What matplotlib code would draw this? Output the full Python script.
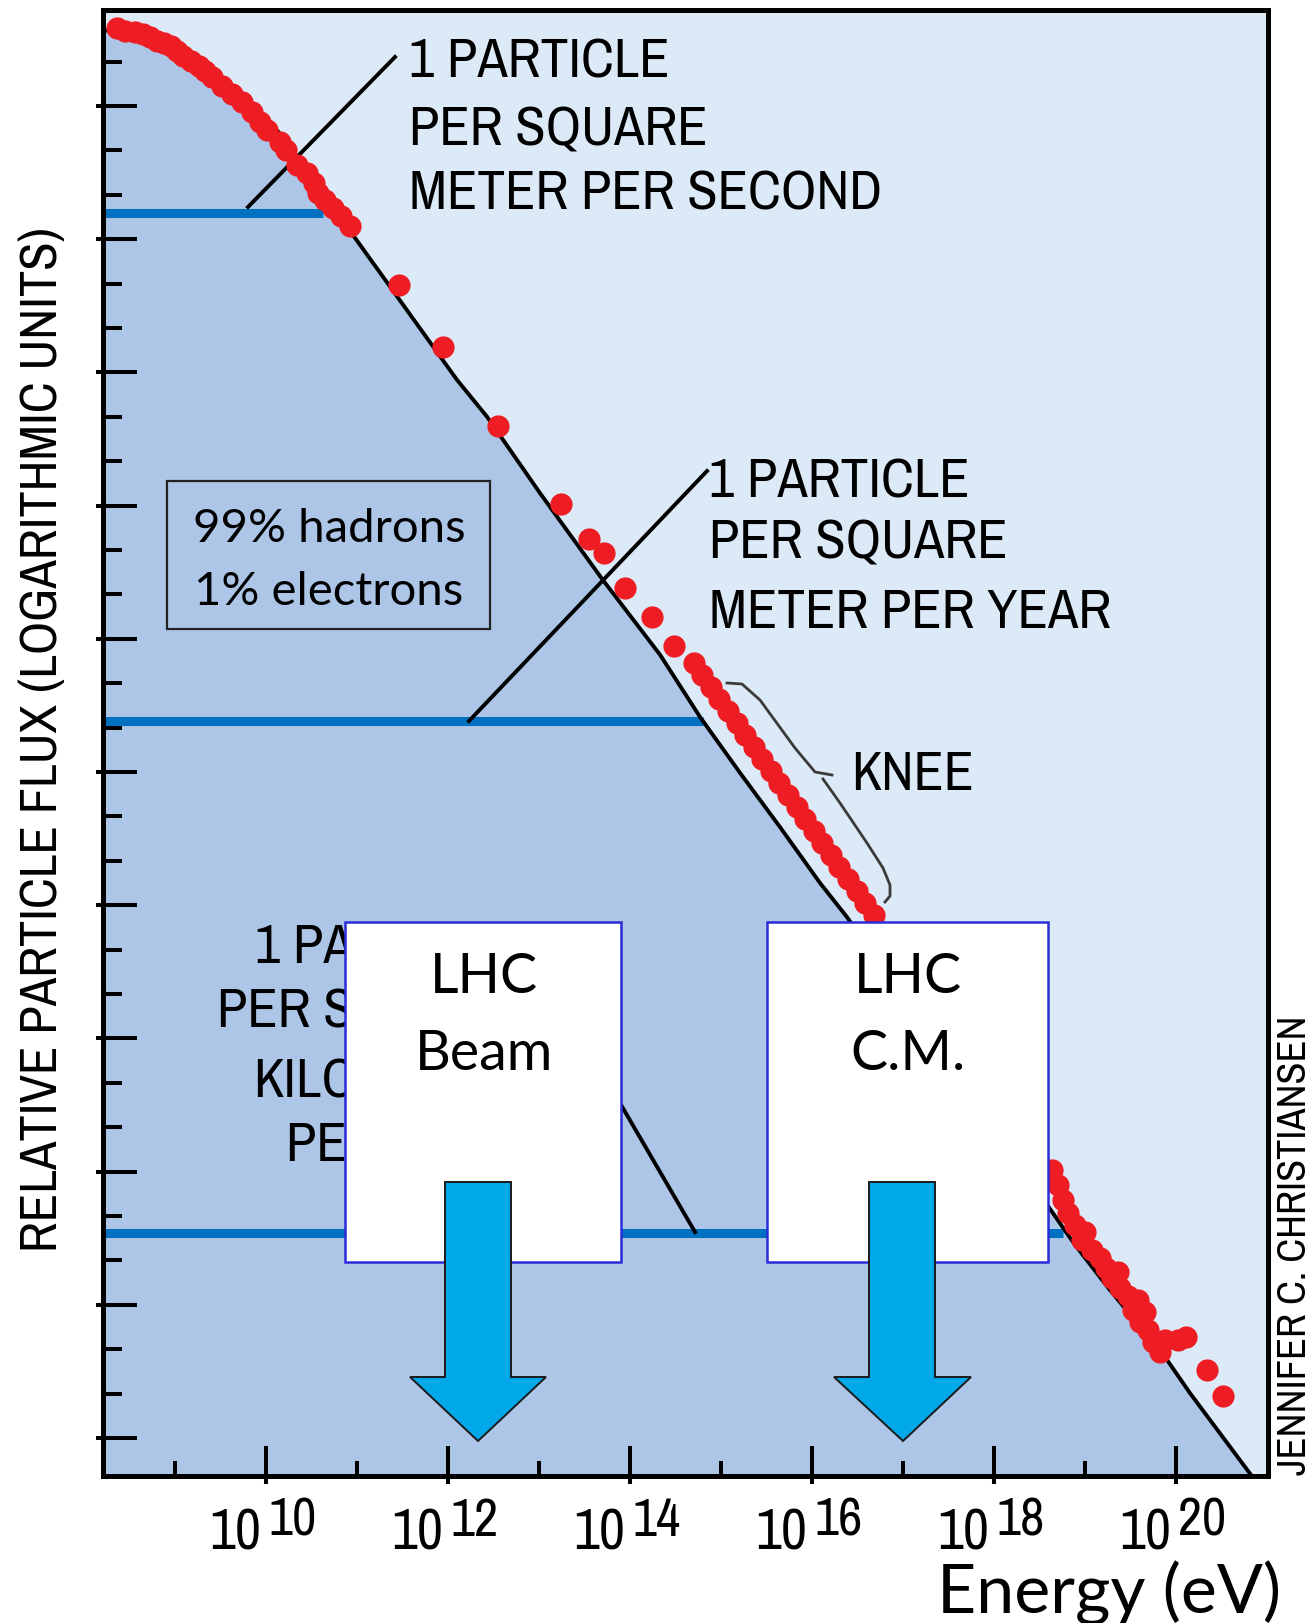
import matplotlib
matplotlib.use("Agg")
import matplotlib.pyplot as plt
import matplotlib.font_manager as fm
import numpy as np
from matplotlib.patches import Rectangle, Polygon
from matplotlib.ticker import FixedLocator, NullFormatter

# ---------------- data (log10 energy in eV, relative flux in log units) -------------
spectrum_logE = [8.209, 8.725, 9.275, 9.802, 10.187, 10.813, 11.286, 12.099, 12.429,
                 13.011, 13.703, 14.330, 14.769, 15.209, 15.648, 16.088, 16.385,
                 18.890, 19.275, 19.681, 19.901, 20.154, 20.725, 20.835]
spectrum_flux = [31.71, 31.53, 30.90, 30.16, 29.30, 27.50, 26.15, 23.83, 23.00,
                 21.28, 19.32, 17.64, 16.24, 14.98, 13.76, 12.50, 11.73,
                 4.35, 3.33, 2.32, 1.76, 1.01, -0.56, -0.86]

data_logE = [8.363, 8.451, 8.560, 8.648, 8.725, 8.802, 8.879, 8.956, 9.022, 9.088,
             9.176, 9.264, 9.330, 9.407, 9.516, 9.626, 9.736, 9.846, 9.934, 10.011,
             10.154, 10.220, 10.341, 10.451, 10.527, 10.571, 10.648, 10.736, 10.824, 10.923,
             11.462, 11.945, 12.549, 13.242, 13.549, 13.714, 13.945, 14.242, 14.484,
             14.700, 14.795, 14.889, 14.982, 15.077, 15.171, 15.265, 15.359, 15.454, 15.548,
             15.642, 15.736, 15.831, 15.924, 16.019, 16.113, 16.208, 16.301, 16.396, 16.490,
             16.584, 16.678,
             18.637, 18.703, 18.758, 18.813, 18.890, 19.000, 18.967, 19.077, 19.165, 19.231,
             19.297, 19.363, 19.385, 19.473, 19.582, 19.527, 19.659, 19.604, 19.692, 19.747,
             19.879, 20.022, 20.110, 19.824, 20.341, 20.516]
data_flux = [31.76, 31.69, 31.67, 31.62, 31.55, 31.46, 31.42, 31.35, 31.24, 31.13,
             31.01, 30.90, 30.79, 30.65, 30.45, 30.27, 30.09, 29.87, 29.64, 29.46,
             29.19, 29.01, 28.67, 28.49, 28.27, 28.04, 27.88, 27.70, 27.52, 27.30,
             25.97, 24.57, 22.79, 21.04, 20.25, 19.93, 19.14, 18.49, 17.84,
             17.46, 17.19, 16.91, 16.64, 16.37, 16.10, 15.83, 15.56, 15.29, 15.02,
             14.75, 14.48, 14.21, 13.94, 13.67, 13.40, 13.13, 12.86, 12.59, 12.32,
             12.05, 11.78,
             6.04, 5.70, 5.36, 5.07, 4.80, 4.64, 4.46, 4.23, 4.05, 3.83,
             3.60, 3.74, 3.38, 3.20, 3.11, 2.88, 2.84, 2.61, 2.43, 2.16,
             2.21, 2.21, 2.28, 1.94, 1.53, 0.95]

level_flux = [27.59, 16.15, 4.62]          # 1/m^2/s, 1/m^2/yr, 1/km^2/yr
level_end_logE = [10.63, 14.80, 18.76]

major_decades = [10, 12, 14, 16, 18, 20]
minor_decades = [9, 11, 13, 15, 17, 19]
flux_major_ticks = list(range(0, 31, 3))
flux_minor_ticks = [t for t in range(0, 32) if t % 3 != 0]

XLIM_LOG = (8.209, 21.011)
YLIM = (-0.856, 32.16)

# ---------------- fonts ----------------
def _find_narrow():
    lib, dvc = None, None
    for f in fm.fontManager.ttflist:
        if f.style != 'normal' or f.weight not in (400, 'normal', 'regular'):
            continue
        if 'Narrow' in f.name and lib is None:
            lib = f.fname
        if f.name == 'DejaVu Sans' and 'Condensed' in f.fname and dvc is None:
            dvc = f.fname
    if lib:
        return lib, 1.0
    if dvc:
        return dvc, 0.93
    return None, 0.82

NARROW_FILE, NARROW_SCALE = _find_narrow()


def nfont(size):
    if NARROW_FILE:
        return fm.FontProperties(fname=NARROW_FILE, size=size * NARROW_SCALE)
    return fm.FontProperties(family=['Liberation Sans', 'DejaVu Sans'],
                             size=size * NARROW_SCALE)


CAL = ['Lato', 'DejaVu Sans']
LIGHT = '#DCE9F6'
DARK = '#ADC6E7'
RED = '#EE1D23'
BLUE = '#0070C0'
CYAN = '#00A8EA'

W, H = 1313, 1623
fig = plt.figure(figsize=(W / 100, H / 100), dpi=100)
AX_L, AX_R, AX_T, AX_B = 103, 1268, 10, 1476
ax = fig.add_axes([AX_L / W, 1 - AX_B / H, (AX_R - AX_L) / W, (AX_B - AX_T) / H])


def P(xp, yp):
    """reference-pixel layout position -> axes fraction"""
    return ((xp - AX_L) / (AX_R - AX_L), (AX_B - yp) / (AX_B - AX_T))


ax.set_facecolor(LIGHT)
ax.set_xscale('log')
ax.set_xlim(10 ** XLIM_LOG[0], 10 ** XLIM_LOG[1])
ax.set_ylim(*YLIM)

E_spec = 10 ** np.array(spectrum_logE)
ax.fill_between(E_spec, spectrum_flux, YLIM[0], color=DARK, lw=0, zorder=0.5)

for f, e in zip(level_flux, level_end_logE):
    ax.plot([10 ** XLIM_LOG[0], 10 ** e], [f, f], color=BLUE, lw=6.5,
            solid_capstyle='butt', zorder=2)

ax.plot(E_spec, spectrum_flux, color='black', lw=2.8, zorder=3)
ax.plot(10 ** np.array(data_logE), data_flux, ls='none', marker='o', ms=16,
        mfc=RED, mec='none', zorder=4)

# pointer lines
for (x0, y0), (x1, y1) in [((248, 207), (395, 57)), ((469, 721), (707, 471)),
                           ((560, 1000), (695, 1232))]:
    a, b = P(x0, y0), P(x1, y1)
    ax.plot([a[0], b[0]], [a[1], b[1]], transform=ax.transAxes, color='black',
            lw=2.8, zorder=3)

# knee bracket
up = [(727, 683), (742, 684), (760, 700), (795, 748), (815, 772), (832, 775)]
lo = [(823, 779), (840, 803), (867, 843), (883, 868), (890, 885), (890, 896), (885, 902)]
for seg in (up, lo):
    pts = [P(x, y) for x, y in seg]
    ax.plot([p[0] for p in pts], [p[1] for p in pts], transform=ax.transAxes,
            color='#3a3a3a', lw=2.0, zorder=3, solid_joinstyle='round')


def T(xp, yp, s, ha='left', size=40, narrow=True, z=5):
    kw = dict(fontproperties=nfont(size)) if narrow else dict(fontsize=size, family=CAL)
    ax.text(*P(xp, yp), s, transform=ax.transAxes, ha=ha, va='baseline',
            color='black', zorder=z, **kw)


for s, yb in zip(["1 PARTICLE", "PER SQUARE", "METER PER SECOND"], [77, 145, 210]):
    T(409, yb, s)
for s, yb in zip(["1 PARTICLE", "PER SQUARE", "METER PER YEAR"], [497, 559, 628]):
    T(709, yb, s)
T(851, 790, "KNEE", size=39.5)
for s, yb in zip(["1 PARTICLE", "PER SQUARE", "KILOMETER", "PER YEAR"],
                 [964, 1027, 1097, 1161]):
    T(516, yb, s, ha='right')

# hadron box
x0, y0 = P(167, 629)
x1, y1 = P(490, 481)
ax.add_patch(Rectangle((x0, y0), x1 - x0, y1 - y0, transform=ax.transAxes,
                       fill=False, ec='#222222', lw=1.6, zorder=5))
T(329, 542, "99% hadrons", ha='center', size=34, narrow=False)
T(329, 605, "1% electrons", ha='center', size=34, narrow=False)

# LHC boxes and arrows
for (bl, br), cx, lines, (sl, sr, hl, hr, tip) in [
        ((345, 621), 484, ["LHC", "Beam"], (445, 511, 410, 546, 478)),
        ((767, 1048), 908, ["LHC", "C.M."], (869, 935, 834, 971, 903))]:
    x0, y0 = P(bl, 1262)
    x1, y1 = P(br, 922)
    ax.add_patch(Rectangle((x0, y0), x1 - x0, y1 - y0, transform=ax.transAxes,
                           fc='white', ec='#2B2BD9', lw=1.8, zorder=6))
    T(cx, 993, lines[0], ha='center', size=40, narrow=False, z=7)
    T(cx, 1070, lines[1], ha='center', size=40, narrow=False, z=7)
    verts = [P(sl, 1182), P(sr, 1182), P(sr, 1377), P(hr, 1377), P(tip, 1441),
             P(hl, 1377), P(sl, 1377)]
    ax.add_patch(Polygon(verts, closed=True, transform=ax.transAxes, fc=CYAN,
                         ec='#1a1a1a', lw=1.4, zorder=8))

# axes / ticks
for sp in ax.spines.values():
    sp.set_linewidth(3.6)
    sp.set_color('black')
    sp.set_zorder(10)
ax.xaxis.set_major_locator(FixedLocator([10.0 ** k for k in major_decades]))
ax.xaxis.set_minor_locator(FixedLocator([10.0 ** k for k in minor_decades]))
ax.xaxis.set_major_formatter(NullFormatter())
ax.xaxis.set_minor_formatter(NullFormatter())
ax.yaxis.set_major_locator(FixedLocator(flux_major_ticks))
ax.yaxis.set_minor_locator(FixedLocator(flux_minor_ticks))
ax.yaxis.set_major_formatter(NullFormatter())
ax.yaxis.set_minor_formatter(NullFormatter())
ax.tick_params(which='both', direction='in', color='black', width=2.9,
               top=False, right=False, labelleft=False, labelbottom=False)
ax.tick_params(axis='x', which='major', length=21.6)
ax.tick_params(axis='x', which='minor', length=10.8)
ax.tick_params(axis='y', which='major', length=24.5)
ax.tick_params(axis='y', which='minor', length=13.7)

# small outward stubs of the long ticks
AXW, AXH = AX_R - AX_L, AX_B - AX_T
for t in flux_major_ticks:
    ax.plot([-7 / AXW, 0], [t, t], transform=ax.get_yaxis_transform(), color='black',
            lw=2.9, solid_capstyle='butt', clip_on=False, zorder=10)
for k in major_decades:
    ax.plot([10.0 ** k] * 2, [-8 / AXH, 0], transform=ax.get_xaxis_transform(),
            color='black', lw=2.9, solid_capstyle='butt', clip_on=False, zorder=10)

for k in major_decades:
    ax.annotate("10", xy=(10.0 ** k, 0), xycoords=('data', 'axes fraction'),
                xytext=(-5, -74), textcoords='offset pixels', ha='right', va='baseline',
                fontproperties=nfont(41), annotation_clip=False)
    ax.annotate(str(k), xy=(10.0 ** k, 0), xycoords=('data', 'axes fraction'),
                xytext=(2, -60), textcoords='offset pixels', ha='left', va='baseline',
                fontproperties=nfont(38), annotation_clip=False)

fig.text(1281 / W, 1 - 1613 / H, "Energy (eV)", ha='right', va='baseline',
         fontsize=49, family=CAL)
fig.text(57 / W, 1 - 740 / H, "RELATIVE PARTICLE FLUX (LOGARITHMIC UNITS)",
         rotation=90, rotation_mode='anchor', ha='center', va='baseline',
         fontproperties=nfont(37.5))
fig.text(1306 / W, 1 - 1245 / H, "JENNIFER C. CHRISTIANSEN",
         rotation=90, rotation_mode='anchor', ha='center', va='baseline',
         fontproperties=nfont(29))

fig.savefig('out.png', dpi=100)
